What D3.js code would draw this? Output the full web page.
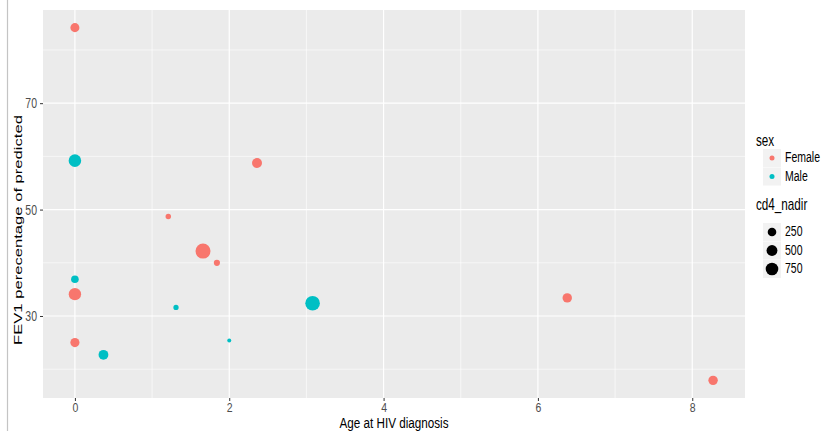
<!DOCTYPE html>
<html lang="en">
<head>
<meta charset="UTF-8">
<title>FEV1 vs age at HIV diagnosis</title>
<script src="https://d3js.org/d3.v7.min.js"></script>
<style>
  body { margin: 0; background: #fff; }
  text { font-family: "Liberation Sans", Arial, sans-serif; }
</style>
</head>
<body>
<div id="chart"></div>
<script>
// data
var ageDx = [0, 0, 2.36, 1.21, 1.66, 1.84, 0, 0, 1.31, 3.08, 2.0, 0, 0.37, 6.38, 8.27];
var fev1  = [84.2, 59.2, 58.75, 48.7, 42.2, 40.0, 36.9, 34.1, 31.6, 32.4, 25.4, 25.0, 22.7, 33.4, 17.9];
var sex   = ["Female", "Male", "Female", "Female", "Female", "Female", "Male", "Female",
             "Male", "Male", "Male", "Female", "Male", "Female", "Female"];
var cd4   = [290, 750, 390, 70, 1200, 95, 175, 720, 65, 1120, 50, 300, 370, 330, 330];

var xTicks = [0, 2, 4, 6, 8];
var xMinor = [1, 3, 5, 7];
var yTicks = [30, 50, 70];
var yMinor = [20, 40, 60, 80];
var sexLevels = ["Female", "Male"];
var sizeBreaks = [250, 500, 750];

var W = 821, H = 431;
var panel = {left: 43, right: 745, top: 10, bottom: 398};
var stretch = 1.42;  // the screenshot is stretched vertically
var stretchX = 1.3;  // a bit less under the x axis, where room is short

var data = ageDx.map(function(d, i) {
  return {age: d, fev: fev1[i], sex: sex[i], cd4: cd4[i]};
});

var svg = d3.select("#chart").append("svg")
  .attr("width", W)
  .attr("height", H);

// ggplot style 5% expansion
function expand(ext) {
  var pad = (ext[1] - ext[0]) * 0.05;
  return [ext[0] - pad, ext[1] + pad];
}

var x = d3.scaleLinear()
  .domain(expand(d3.extent(ageDx)))
  .range([panel.left, panel.right]);
var y = d3.scaleLinear()
  .domain(expand(d3.extent(fev1)))
  .range([panel.bottom, panel.top]);

var color = d3.scaleOrdinal().domain(sexLevels).range(["#F8766D", "#00BFC4"]);

var cd4Ext = d3.extent(cd4);
var rLin = d3.scaleLinear().domain([0, 1]).range([2, 7.5]);
function radius(v) {
  return rLin(Math.sqrt((v - cd4Ext[0]) / (cd4Ext[1] - cd4Ext[0])));
}

// border line at the left edge of the screenshot
svg.append("line")
  .attr("x1", 7.5).attr("x2", 7.5)
  .attr("y1", 0).attr("y2", H)
  .attr("stroke", "#c4c4c4").attr("stroke-width", 1.2);

// panel
svg.append("rect")
  .attr("x", panel.left).attr("y", panel.top)
  .attr("width", panel.right - panel.left)
  .attr("height", panel.bottom - panel.top)
  .attr("fill", "#EBEBEB");

var grid = svg.append("g");
grid.selectAll(".xminor").data(xMinor).enter().append("line")
  .attr("x1", function(d) { return x(d); }).attr("x2", function(d) { return x(d); })
  .attr("y1", panel.top).attr("y2", panel.bottom)
  .attr("stroke", "#fff").attr("stroke-width", 0.6);
grid.selectAll(".yminor").data(yMinor).enter().append("line")
  .attr("y1", function(d) { return y(d); }).attr("y2", function(d) { return y(d); })
  .attr("x1", panel.left).attr("x2", panel.right)
  .attr("stroke", "#fff").attr("stroke-width", 0.6);
grid.selectAll(".xmajor").data(xTicks).enter().append("line")
  .attr("x1", function(d) { return x(d); }).attr("x2", function(d) { return x(d); })
  .attr("y1", panel.top).attr("y2", panel.bottom)
  .attr("stroke", "#fff").attr("stroke-width", 1.2);
grid.selectAll(".ymajor").data(yTicks).enter().append("line")
  .attr("y1", function(d) { return y(d); }).attr("y2", function(d) { return y(d); })
  .attr("x1", panel.left).attr("x2", panel.right)
  .attr("stroke", "#fff").attr("stroke-width", 1.2);

// axes
var xAxis = svg.append("g")
  .attr("transform", "translate(0," + panel.bottom + ")")
  .call(d3.axisBottom(x).tickValues(xTicks).tickSize(3).tickPadding(4));
var yAxis = svg.append("g")
  .attr("transform", "translate(" + panel.left + ",0)")
  .call(d3.axisLeft(y).tickValues(yTicks).tickSize(3).tickPadding(3));

[xAxis, yAxis].forEach(function(ax) {
  ax.select(".domain").remove();
  ax.selectAll(".tick line").attr("stroke", "#333");
  ax.selectAll(".tick text")
    .attr("fill", "#4D4D4D")
    .style("font-size", "10.5px")
    .style("font-family", "'Liberation Sans', Arial, sans-serif");
});
// stretch tick labels vertically like the screenshot
xAxis.selectAll(".tick text")
  .attr("y", 0).attr("dy", 0)
  .attr("transform", "translate(0,14) scale(1," + stretchX + ")");
yAxis.selectAll(".tick text")
  .attr("dy", 0)
  .attr("transform", "translate(0,4.5) scale(1," + stretch + ")");

// points
svg.append("g").selectAll("circle")
  .data(data)
  .enter().append("circle")
    .attr("cx", function(d) { return x(d.age); })
    .attr("cy", function(d) { return y(d.fev); })
    .attr("r", function(d) { return radius(d.cd4); })
    .attr("fill", function(d) { return color(d.sex); });

// axis titles
svg.append("text")
  .attr("transform", "translate(" + ((panel.left + panel.right) / 2) + ",428) scale(1," + stretchX + ")")
  .attr("text-anchor", "middle")
  .style("font-size", "11.7px")
  .attr("fill", "#000")
  .text("Age at HIV diagnosis");

svg.append("text")
  .attr("transform", "translate(22,230) rotate(-90) scale(" + stretch + ",1)")
  .attr("text-anchor", "middle")
  .style("font-size", "11.7px")
  .attr("fill", "#000")
  .text("FEV1 perecentage of predicted");

// legends
var lg = {left: 763, titleX: 756, keyW: 18, keyH: 18, labelX: 785};

function legendTitle(txt, cy) {
  svg.append("text")
    .attr("transform", "translate(" + lg.titleX + "," + (cy + 5) + ") scale(1," + stretch + ")")
    .style("font-size", "11.7px")
    .attr("fill", "#000")
    .text(txt);
}
function legendLabel(txt, cy) {
  svg.append("text")
    .attr("transform", "translate(" + lg.labelX + "," + (cy + 4) + ") scale(1," + stretch + ")")
    .style("font-size", "10.5px")
    .attr("fill", "#000")
    .text(txt);
}

// sex legend
var sexY0 = 158, sizeY0 = 232, step = 18.5;
legendTitle("sex", 141);
svg.append("g").selectAll("rect")
  .data(sexLevels).enter().append("rect")
    .attr("x", lg.left)
    .attr("y", function(d, i) { return sexY0 + i * step - lg.keyH / 2; })
    .attr("width", lg.keyW).attr("height", lg.keyH)
    .attr("fill", "#F2F2F2");
svg.append("g").selectAll("circle")
  .data(sexLevels).enter().append("circle")
    .attr("cx", lg.left + lg.keyW / 2)
    .attr("cy", function(d, i) { return sexY0 + i * step; })
    .attr("r", 2.5)
    .attr("fill", function(d) { return color(d); });
sexLevels.forEach(function(d, i) { legendLabel(d, sexY0 + i * step); });

// size legend
legendTitle("cd4_nadir", 205);
svg.append("g").selectAll("rect")
  .data(sizeBreaks).enter().append("rect")
    .attr("x", lg.left)
    .attr("y", function(d, i) { return sizeY0 + i * step - lg.keyH / 2; })
    .attr("width", lg.keyW).attr("height", lg.keyH)
    .attr("fill", "#F2F2F2");
svg.append("g").selectAll("circle")
  .data(sizeBreaks).enter().append("circle")
    .attr("cx", lg.left + lg.keyW / 2)
    .attr("cy", function(d, i) { return sizeY0 + i * step; })
    .attr("r", function(d) { return radius(d); })
    .attr("fill", "#000");
sizeBreaks.forEach(function(d, i) { legendLabel(String(d), sizeY0 + i * step); });
</script>
</body>
</html>
